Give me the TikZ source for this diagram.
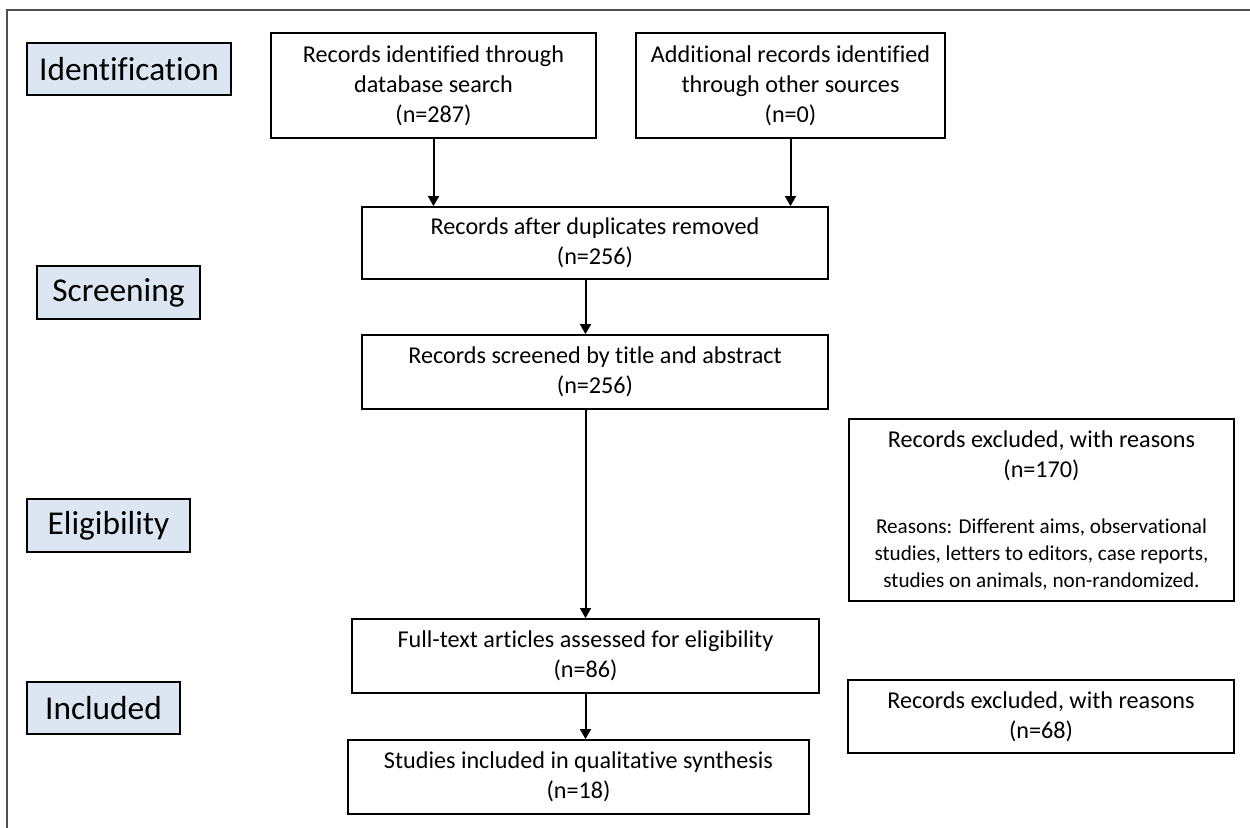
\documentclass[tikz,border=0pt]{standalone}
\usepackage{fontspec}
\setmainfont{Carlito}[Ligatures=NoCommon]
\usetikzlibrary{arrows.meta}

\definecolor{stagefill}{HTML}{DCE6F2}
\definecolor{framegray}{HTML}{505050}

\tikzset{
  flowbox/.style={draw, line width=1pt, align=center, inner sep=0pt, font=\fontsize{14.5}{18}\selectfont},
  stagebox/.style={draw, line width=1pt, fill=stagefill, inner sep=0pt, font=\fontsize{20}{24}\selectfont},
  flowarrow/.style={line width=1.2pt, -{Triangle[width=6.5pt,length=6pt]}}
}
\newcommand{\reasonfont}{\fontsize{12.7}{15.5}\selectfont}

\begin{document}
\begin{tikzpicture}[x=0.6pt, y=-0.6pt]
  \useasboundingbox (0,0) rectangle (1250,828);
  \draw[framegray, line width=1.2pt] (7,828) -- (7,10) -- (1250,10);

  \node[stagebox, minimum width=122.4pt, minimum height=31.2pt] (ident) at (129,69) {Identification};
  \node[stagebox, minimum width=97.8pt, minimum height=31.8pt] (screen) at (118.5,292.5) {Screening};
  \node[stagebox, minimum width=97.8pt, minimum height=31.8pt] (elig) at (108.5,525.5) {Eligibility};
  \node[stagebox, minimum width=91.8pt, minimum height=31.2pt] (incl) at (103.5,708) {Included};

  \node[flowbox, minimum width=195pt, minimum height=63pt] (dbrec) at (433.5,85.5)
    {Records identified through\\database search\\(n=287)};
  \node[flowbox, minimum width=185.4pt, minimum height=63pt] (otherrec) at (790.5,85.5)
    {Additional records identified\\through other sources\\(n=0)};
  \node[flowbox, minimum width=279.6pt, minimum height=43.2pt] (dedup) at (595,243)
    {Records after duplicates removed\\(n=256)};
  \node[flowbox, minimum width=279.6pt, minimum height=44.4pt] (screened) at (595,372)
    {Records screened by title and abstract\\(n=256)};
  \node[flowbox, minimum width=280.2pt, minimum height=44.4pt] (fulltext) at (585.5,656)
    {Full-text articles assessed for eligibility\\(n=86)};
  \node[flowbox, minimum width=276.6pt, minimum height=44.4pt] (studies) at (578.5,777)
    {Studies included in qualitative synthesis\\(n=18)};

  \node[flowbox, minimum width=231pt, minimum height=109.2pt] (excl1) at (1041.5,510)
    {Records excluded, with reasons\\(n=170)\\[16pt]
     \reasonfont Reasons: Different aims, observational\\[-2pt]
     \reasonfont studies, letters to editors, case reports,\\[-2pt]
     \reasonfont studies on animals, non-randomized.};
  \node[flowbox, minimum width=231.6pt, minimum height=43.8pt] (excl2) at (1041,716.5)
    {Records excluded, with reasons\\(n=68)};

  \draw[flowarrow] (dbrec.south) -- (dbrec.south |- dedup.north);
  \draw[flowarrow] (otherrec.south) -- (otherrec.south |- dedup.north);
  \draw[flowarrow] (dedup.south -| fulltext.north) -- (screened.north -| fulltext.north);
  \draw[flowarrow] (screened.south -| fulltext.north) -- (fulltext.north);
  \draw[flowarrow] (fulltext.south) -- (fulltext.south |- studies.north);
\end{tikzpicture}
\end{document}
